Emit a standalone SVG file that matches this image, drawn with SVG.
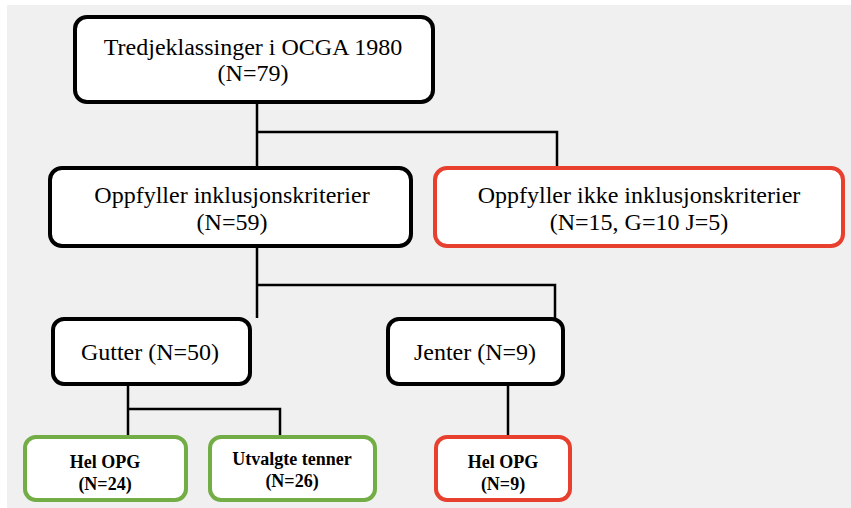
<svg xmlns="http://www.w3.org/2000/svg" width="851" height="508" viewBox="0 0 851 508">
<style>
.bg{fill:#f0f0f0}
.box{fill:#fff;stroke-width:4}
.blk{stroke:#000}
.red{stroke:#e8402f}
.grn{stroke:#72ad45}
text{font-family:'Liberation Serif','Times New Roman',Tinos,'DejaVu Serif',serif;fill:#000;text-anchor:middle}
.t{font-size:24px}
.s{font-size:18px;font-weight:bold}
.c{fill:none;stroke:#000;stroke-width:2.5}
</style>
<rect width="851" height="508" fill="#fff"/>
<rect class="bg" x="7" y="5" width="844" height="503"/>
<g id="connectors">
<path class="c" d="M257,102 V167 M257,132 H557 V167"/>
<path class="c" d="M257,247 V318 M257,285 H555 V318"/>
<path class="c" d="M128,384 V437 M128,409 H280 V437"/>
<path class="c" d="M508,384 V435"/>
</g>
<g id="n1"><rect class="box blk" x="75" y="17" width="358" height="85" rx="12"/><text class="t" x="253" y="55">Tredjeklassinger i OCGA 1980</text><text class="t" x="253" y="81">(N=79)</text></g>
<g id="n2"><rect class="box blk" x="50" y="168" width="361" height="78" rx="12"/><text class="t" x="232" y="203">Oppfyller inklusjonskriterier</text><text class="t" x="232" y="230">(N=59)</text></g>
<g id="n3"><rect class="box red" x="435" y="168" width="408" height="78" rx="12"/><text class="t" x="639" y="203">Oppfyller ikke inklusjonskriterier</text><text class="t" x="639" y="230">(N=15, G=10 J=5)</text></g>
<g id="n4"><rect class="box blk" x="53" y="319" width="197" height="65" rx="11"/><text class="t" x="150" y="360">Gutter (N=50)</text></g>
<g id="n5"><rect class="box blk" x="388" y="319" width="175" height="65" rx="11"/><text class="t" x="475" y="360">Jenter (N=9)</text></g>
<g id="n6"><rect class="box grn" x="25" y="437" width="161" height="63" rx="11"/><text class="s" x="105" y="468">Hel OPG</text><text class="s" x="105" y="490">(N=24)</text></g>
<g id="n7"><rect class="box grn" x="210" y="437" width="165" height="63" rx="11"/><text class="s" x="292" y="465">Utvalgte tenner</text><text class="s" x="292" y="487">(N=26)</text></g>
<g id="n8"><rect class="box red" x="436" y="437" width="134" height="63" rx="11"/><text class="s" x="503" y="468">Hel OPG</text><text class="s" x="503" y="490">(N=9)</text></g>
</svg>
